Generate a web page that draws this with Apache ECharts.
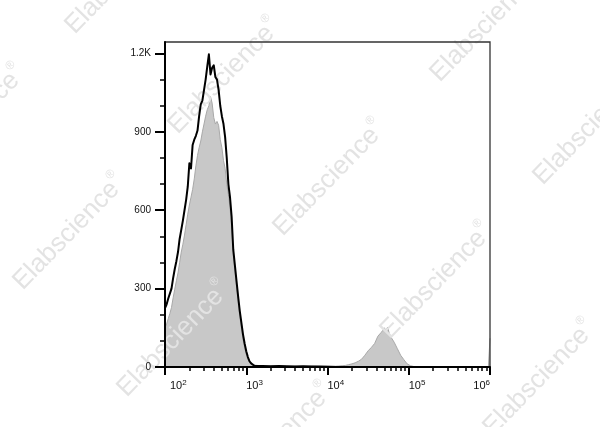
<!DOCTYPE html>
<html><head><meta charset="utf-8">
<script src="https://cdn.jsdelivr.net/npm/echarts@6/dist/echarts.min.js"></script>
<style>html,body{margin:0;padding:0;background:#fff}#c{width:600px;height:427px}</style>
</head><body><div id="c"></div>
<script>
// x positions as log10 of channel value
const logPos = [
  2.00,2.02,2.04,2.06,2.08,2.10,2.12,2.14,2.16,2.18,
  2.20,2.22,2.24,2.26,2.28,2.30,2.32,2.34,2.36,2.38,
  2.40,2.42,2.44,2.46,2.48,2.50,2.52,2.54,2.56,2.58,
  2.60,2.62,2.64,2.66,2.68,2.70,2.72,2.74,2.76,2.78,
  2.80,2.82,2.84,2.86,2.88,2.90,2.92,2.94,2.96,2.98,
  3.00,3.02,3.04,3.06,3.08,3.10,
  3.2,3.3,3.4,3.5,3.6,3.7,3.8,3.9,4.0,4.1,
  4.14,4.18,4.22,4.26,4.30,4.34,4.38,4.42,4.46,4.50,4.54,4.58,
  4.62,4.66,4.68,4.70,4.72,4.74,4.76,4.78,4.82,4.86,4.90,4.94,4.98,
  5.02,5.06,5.1,5.2,5.5,5.98,6.0
];
const grayCounts = [
  150,165,185,205,228,265,298,330,360,400,
  440,470,505,545,585,620,650,680,720,770,
  810,840,865,900,930,960,985,1000,1035,1010,
  955,930,940,925,870,840,790,760,700,660,
  610,540,430,370,310,250,195,150,105,75,
  48,30,18,12,8,6,
  4,3,3,2,3,2,3,2,3,3,
  4,5,6,9,12,16,22,30,45,62,75,90,
  118,132,140,150,138,153,128,115,95,70,45,28,12,
  5,2,1,0,0,0,110
];
const blackCounts = [
  225,240,262,255,300,340,375,405,440,490,
  525,560,600,640,690,780,760,850,870,885,
  905,960,1005,1020,1060,1100,1150,1197,1120,1145,
  1155,1110,1100,1060,1000,960,930,880,800,700,
  650,575,450,390,330,270,215,170,125,90,
  60,38,22,14,8,5,
  4,3,4,3,2,3,2,2,1,0,
  null,null,null,null,null,null,null,null,null,null,null,null,
  null,null,null,null,null,null,null,null,null,null,null,null,null,
  null,null,null,null,null,null,null
];
const yTickValues = [0, 300, 600, 900, 1200];
const yMinorValues = [100, 200, 400, 500, 700, 800, 1000, 1100];
const xDecades = [2, 3, 4, 5, 6];
const xMinorMultipliers = [2, 3, 4, 5, 6, 7, 8, 9];
const watermarkText = 'Elabscience';

const xMinorValues = [];
xDecades.slice(0, -1).forEach(d => xMinorMultipliers.forEach(k => xMinorValues.push(d + Math.log10(k))));

const wmCenters = [[120,-25],[223,75],[328,177],[435,280],[538,377],[-32,122],[68,231],[172,338],[275,440],[485,23],[588,126]];

const FONT = 'Liberation Sans, Arial, sans-serif';
const TXT = '#111';
const chart = echarts.init(document.getElementById('c'), null, {renderer: 'canvas'});

const grayData = logPos.map((x, i) => [x, grayCounts[i]]);
const blackData = logPos.map((x, i) => [x, blackCounts[i]]);

chart.setOption({
  animation: false,
  backgroundColor: '#fff',
  grid: {left: 165, right: 110, top: 42, bottom: 60, show: true, borderColor: '#333', borderWidth: 1.3, backgroundColor: 'transparent', z: 4},
  xAxis: [{
    type: 'value', min: 2, max: 6, interval: 1, position: 'bottom', z: 4,
    axisLine: {show: true, onZero: false, lineStyle: {color: '#000', width: 2}},
    axisTick: {show: true, length: 8, lineStyle: {color: '#000', width: 2}},
    splitLine: {show: false},
    axisLabel: {
      show: true, margin: 12, align: 'left', alignMaxLabel: 'right',
      formatter: v => (v === 2 ? '{bp|10}{s|' + v + '}' : '{b|10}{s|' + v + '}'),
      rich: {
        b: {fontSize: 11, fontFamily: FONT, color: TXT, lineHeight: 12, padding: [6,0,0,0], verticalAlign: 'bottom'},
        bp: {fontSize: 11, fontFamily: FONT, color: TXT, lineHeight: 12, padding: [6,0,0,5], verticalAlign: 'bottom'},
        s: {fontSize: 8, fontFamily: FONT, color: TXT, lineHeight: 9, verticalAlign: 'top'}
      }
    }
  }, {
    type: 'value', min: 2, max: 6, position: 'bottom', z: 4,
    axisLine: {show: false}, splitLine: {show: false}, axisLabel: {show: false},
    axisTick: {show: true, length: 4, customValues: xMinorValues, lineStyle: {color: '#000', width: 1.5}}
  }],
  yAxis: [{
    type: 'value', min: 0, max: 1244, position: 'left', z: 4,
    axisLine: {show: true, lineStyle: {color: '#000', width: 2}},
    axisTick: {show: true, length: 10, customValues: yTickValues, lineStyle: {color: '#000', width: 2}},
    splitLine: {show: false},
    axisLabel: {show: true, customValues: yTickValues, margin: 14, fontSize: 10, fontFamily: FONT, color: TXT,
      formatter: v => (v >= 1000 ? (v / 1000) + 'K' : String(v))}
  }, {
    type: 'value', min: 0, max: 1244, position: 'left', z: 4,
    axisLine: {show: false}, splitLine: {show: false}, axisLabel: {show: false},
    axisTick: {show: true, length: 5, customValues: yMinorValues, lineStyle: {color: '#000', width: 1.5}}
  }],
  series: [{
    type: 'line', name: 'gray', xAxisIndex: 0, yAxisIndex: 0, data: grayData, z: 1,
    showSymbol: false, symbol: 'none', smooth: false,
    lineStyle: {color: '#a8a8a8', width: 1},
    areaStyle: {color: '#c8c8c8', opacity: 1}
  }, {
    type: 'line', name: 'black', xAxisIndex: 0, yAxisIndex: 0, data: blackData, z: 3,
    showSymbol: false, symbol: 'none', smooth: false, connectNulls: false,
    lineStyle: {color: '#000', width: 2, join: 'round'}
  }],
  graphic: {elements: wmCenters.map(c => ({
    type: 'text', x: c[0], y: c[1], rotation: 0.8, z: 2, silent: true,
    style: {
      text: '{a|' + watermarkText + '}{r|®}',
      align: 'center', verticalAlign: 'middle', textAlign: 'center', textVerticalAlign: 'middle',
      fill: '#e3e3e3',
      rich: {
        a: {fontSize: 26, fontFamily: FONT, fill: '#e3e3e3', color: '#e3e3e3', lineHeight: 30, verticalAlign: 'bottom'},
        r: {fontSize: 12, fontFamily: FONT, fill: '#e3e3e3', color: '#e3e3e3', lineHeight: 14, verticalAlign: 'top'}
      }
    }
  }))}
});
</script>
</body></html>
